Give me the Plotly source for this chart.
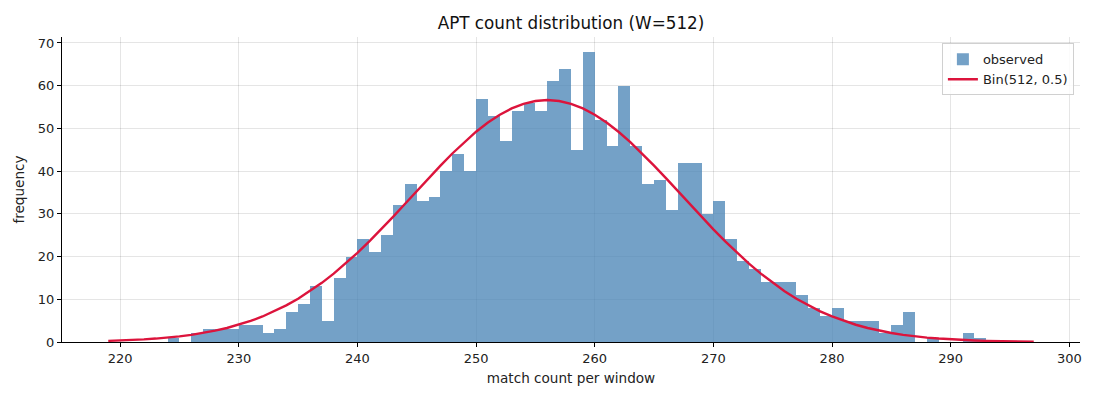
import math
import plotly.graph_objects as go

# --- DATA ---
# histogram bins: left edges (width 1) and observed counts
bin_left = list(range(224, 293))
counts = [
    1, 0, 2, 3, 3, 3, 4, 4, 2, 3,          # 224-233
    7, 9, 13, 5, 15, 20, 24, 21, 25, 32,   # 234-243
    37, 33, 34, 40, 44, 40, 57, 53, 47, 54,  # 244-253
    56, 54, 61, 64, 45, 68, 52, 46, 60, 46,  # 254-263
    37, 38, 31, 42, 42, 30, 33, 24, 19, 17,  # 264-273
    14, 14, 14, 11, 8, 6, 8, 5, 5, 5,       # 274-283
    2, 4, 7, 0, 1, 0, 0, 2, 1,              # 284-292
]

# theoretical curve Bin(n, p), scaled to the number of windows
n_trials = 512
p_success = 0.5
curve_x = list(range(219, 298))
total = sum(counts)
curve_y = [total * math.comb(n_trials, k) * p_success**k * (1 - p_success)**(n_trials - k)
           for k in curve_x]

xtick_vals = list(range(220, 301, 10))
ytick_vals = list(range(0, 71, 10))

# --- FIGURE ---
fig = go.Figure()

fig.add_trace(go.Bar(
    x=[b + 0.5 for b in bin_left], y=counts, width=1,
    marker=dict(color='rgba(70,130,180,0.75)', line=dict(width=0)),
    name='observed'
))

fig.add_trace(go.Scatter(
    x=curve_x, y=curve_y, mode='lines',
    line=dict(color='crimson', width=2.4),
    name='Bin(512, 0.5)'
))

tick_font = dict(family='DejaVu Sans', size=13, color='#222')
label_font = dict(family='DejaVu Sans', size=13.6, color='#222')

# page has an 8px body margin, margins below compensate for it
fig.update_layout(
    width=1100, height=400,
    plot_bgcolor='white', paper_bgcolor='white',
    font=dict(family='DejaVu Sans', size=13, color='#222'),
    title=dict(text='APT count distribution (W=512)', xref='paper', x=0.5, xanchor='center',
               yref='container', y=0.9625, yanchor='middle',
               font=dict(size=16.8, color='#111')),
    margin=dict(l=54, r=28, t=29, b=66),
    bargap=0,
    showlegend=True,
    legend=dict(x=0.994, y=0.979, xanchor='right', yanchor='top',
                bgcolor='rgba(255,255,255,0.85)', bordercolor='#d0d0d0', borderwidth=1,
                font=dict(size=13), tracegroupgap=0),
)

fig.update_xaxes(
    range=[215.1, 300.9], tickvals=xtick_vals,
    showgrid=True, gridcolor='rgba(0,0,0,0.1)', gridwidth=1,
    showline=True, linecolor='black', linewidth=1.2,
    ticks='outside', ticklen=4, tickcolor='black',
    zeroline=False, tickfont=tick_font,
    title=dict(text='match count per window', font=label_font, standoff=8),
)
fig.update_yaxes(
    range=[0, 71.4], tickvals=ytick_vals,
    showgrid=True, gridcolor='rgba(0,0,0,0.1)', gridwidth=1,
    showline=True, linecolor='black', linewidth=1.2,
    ticks='outside', ticklen=4, tickcolor='black',
    zeroline=False, tickfont=tick_font,
    title=dict(text='frequency', font=label_font, standoff=9),
)

fig.write_html("out.html")
